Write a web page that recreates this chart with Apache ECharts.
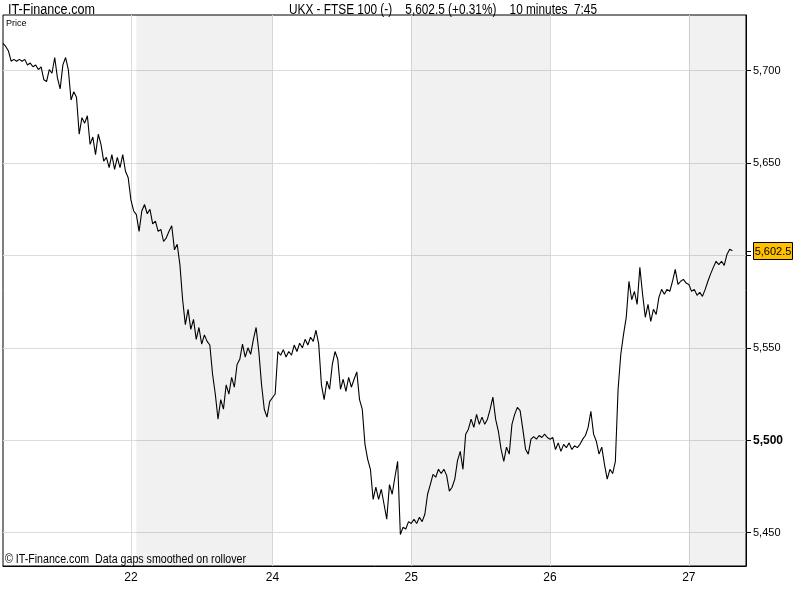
<!DOCTYPE html>
<html>
<head>
<meta charset="utf-8">
<script src="https://cdn.jsdelivr.net/npm/echarts@6/dist/echarts.min.js"></script>
<style>
html,body{margin:0;padding:0;background:#fff;}
#chart{width:800px;height:600px;}
</style>
</head>
<body>
<div id="chart"></div>
<script>
// FTSE 100, 10-minute closes
const prices = [
  5714.6,5713,5710.5,5705,5706,5705,5706,5705,5706,5703,
  5704,5702,5703,5700.5,5702,5695,5694,5700.5,5698.5,5707,
  5696,5690,5703,5707,5700.5,5684,5688.5,5685.5,5665.5,5674.5,
  5671.5,5675.5,5660,5664,5654.5,5665.5,5660,5651,5653,5647.5,
  5654.5,5646.5,5653,5647.5,5654.5,5645.5,5642,
  // 22
  5630,5624,5622,5613,5624,5627.5,5622.5,5624.9,5617,5618.5,
  5613,5614,5607.5,5609.5,5613,5616,5603,5606,5595,5576,
  5562.5,5570.8,5560,5565.4,5554.6,5561,5552,5557,5553.5,5551.5,
  5535.7,5525,5511.4,5522,5516.8,5530,5525,5534,5528.7,5541,
  5543.8,5552,5545,5550,5546.5,5554.6,5561,5548,5530,5516.8,
  5512.5,5521,
  // 24
  5523,5525,5548,5546,5549,5545,5548,5546,5551.5,5548,
  5552.5,5550,5554.6,5551.5,5555.7,5553.5,5559.5,5552,5530,5522,
  5532,5527.6,5541,5548,5543.8,5527.6,5533,5526.5,5534,5528.7,
  5533,5537,5522,5516.8,5497.8,5489.7,5484.3,5468,5474.6,5468,
  5473.5,5465.4,5457.3,5476,5470.8,5480,5488.6,5449,5453,5452,
  5456,
  // 25
  5455,5457.3,5455,5458.4,5456,5460,5470.8,5476,5481.6,5480,
  5484.3,5482,5484.3,5481,5472.5,5474.6,5479,5489,5494,5484.3,
  5503.3,5506,5511.4,5507,5514,5508.6,5512.5,5508.6,5511.4,5516.8,
  5523.3,5511.4,5505,5495.2,5488.6,5496.3,5492.5,5508.6,5514,5517.8,
  5516,5506,5495.2,5492.5,5500.6,5502,5500.6,5502.6,5501.5,5503.3,
  5501.5,
  // 26
  5500.6,5501.5,5495,5498.6,5494,5497.8,5496,5498.6,5495,5497,
  5496,5497.8,5500.6,5502.6,5507,5515.7,5503.3,5499.5,5492.5,5496.3,
  5487,5479,5484.3,5482,5488.6,5527.6,5546.5,5557.3,5566.5,5586,
  5576,5580.5,5573.5,5593.5,5579,5566.5,5573.5,5564.3,5570.8,5568,
  5577.3,5581.6,5579,5581.6,5580.5,5586,5592.4,5584.3,5586,5587,
  5585,
  // 27
  5584.3,5580.5,5581.6,5578.4,5580,5577.8,5581.6,5586,5590,5593.5,
  5596.8,5595,5596.8,5594.6,5600.5,5603.3,5602.5
];
const totalBars = 274;
const tickLabels = ['22', '24', '25', '26', '27'];
const tickIndex = [47, 99, 150, 201, 252];
const shadeBands = [[49, 99], [150, 201], [252, 273]];
const yTicks = [5450, 5500, 5550, 5600, 5650, 5700];
const yLabels = [5450, 5500, 5550, 5650, 5700];
const lastPrice = 5602.5;

const categories = [];
for (let i = 0; i < totalBars; i++) categories.push(String(i));

const sansFont = "'Liberation Sans',Arial,sans-serif";
const fmt = v => v.toLocaleString('en-US');

// measure text to squeeze a regular font into the narrow width seen in the reference
const mctx = document.createElement('canvas').getContext('2d');
function squeeze(text, font, width) {
  mctx.font = font;
  return width / mctx.measureText(text).width;
}
function narrowText(text, x, y, size, width) {
  const font = size + 'px ' + sansFont;
  return {type: 'text', x: x, y: y, scaleX: squeeze(text, font, width), scaleY: 1,
          style: {text: text, font: font, fill: '#000'}, silent: true};
}

const chart = echarts.init(document.getElementById('chart'), null, {renderer: 'canvas'});
chart.setOption({
  animation: false,
  backgroundColor: '#fff',
  grid: {
    left: 3, right: 54, top: 15, bottom: 34,
    show: true, borderColor: '#000', borderWidth: 1, backgroundColor: '#fff'
  },
  xAxis: {
    type: 'category',
    data: categories,
    boundaryGap: false,
    axisLine: {show: true, lineStyle: {color: '#000'}},
    axisTick: {show: false},
    axisLabel: {
      color: '#000', fontFamily: sansFont, fontSize: 12, margin: 6,
      interval: (idx) => tickIndex.indexOf(idx) >= 0,
      formatter: (val) => { const k = tickIndex.indexOf(Number(val)); return k >= 0 ? tickLabels[k] : ''; }
    },
    splitLine: {
      show: true,
      interval: (idx) => tickIndex.indexOf(idx) >= 0,
      lineStyle: {color: '#dcdcdc', width: 1}
    }
  },
  yAxis: {
    type: 'value',
    position: 'right',
    min: 5432, max: 5730,
    scale: true,
    axisLine: {show: true, lineStyle: {color: '#000'}},
    axisTick: {show: true, customValues: yTicks, length: 5, lineStyle: {color: '#000'}},
    axisLabel: {
      customValues: yLabels,
      color: '#000', fontFamily: sansFont, fontSize: 11, margin: 7,
      formatter: (v) => v === 5500 ? '{b|' + fmt(v) + '}' : fmt(v),
      rich: {b: {fontWeight: 'bold', fontSize: 12, color: '#000', fontFamily: sansFont}}
    },
    splitLine: {show: true, lineStyle: {color: '#dcdcdc', width: 1}}
  },
  series: [{
    type: 'line',
    data: prices,
    symbol: 'none',
    sampling: 'none',
    lineStyle: {color: '#000', width: 1.1},
    z: 5,
    markArea: {
      silent: true,
      itemStyle: {color: 'rgba(0,0,0,0.055)'},
      data: shadeBands.map(b => [{xAxis: String(b[0])}, {xAxis: String(b[1])}])
    }
  }]
});

// header / footer texts and the last-price box
const lastY = chart.convertToPixel({yAxisIndex: 0}, lastPrice);
chart.setOption({
  graphic: [
    narrowText('IT-Finance.com', 8, 3, 14, 87),
    narrowText('UKX - FTSE 100 (-)    5,602.5 (+0.31%)    10 minutes  7:45', 289, 3, 14, 308),
    {type: 'text', x: 6, y: 19, silent: true, style: {text: 'Price', font: '9px ' + sansFont, fill: '#000'}},
    narrowText('\u00A9 IT-Finance.com  Data gaps smoothed on rollover', 5, 554, 12, 241),
    {type: 'line', silent: true, shape: {x1: 746, y1: Math.round(lastY) + 0.5, x2: 751, y2: Math.round(lastY) + 0.5}, style: {stroke: '#000', lineWidth: 1}},
    {type: 'rect', silent: true, shape: {x: 753.5, y: Math.round(lastY) - 8.5, width: 39, height: 17},
     style: {fill: '#FFC000', stroke: '#000', lineWidth: 1}},
    {type: 'text', silent: true, x: 773, y: Math.round(lastY) + 0.5,
     style: {text: fmt(lastPrice), font: '11px ' + sansFont, fill: '#000', align: 'center', verticalAlign: 'middle'}}
  ]
});
</script>
</body>
</html>
